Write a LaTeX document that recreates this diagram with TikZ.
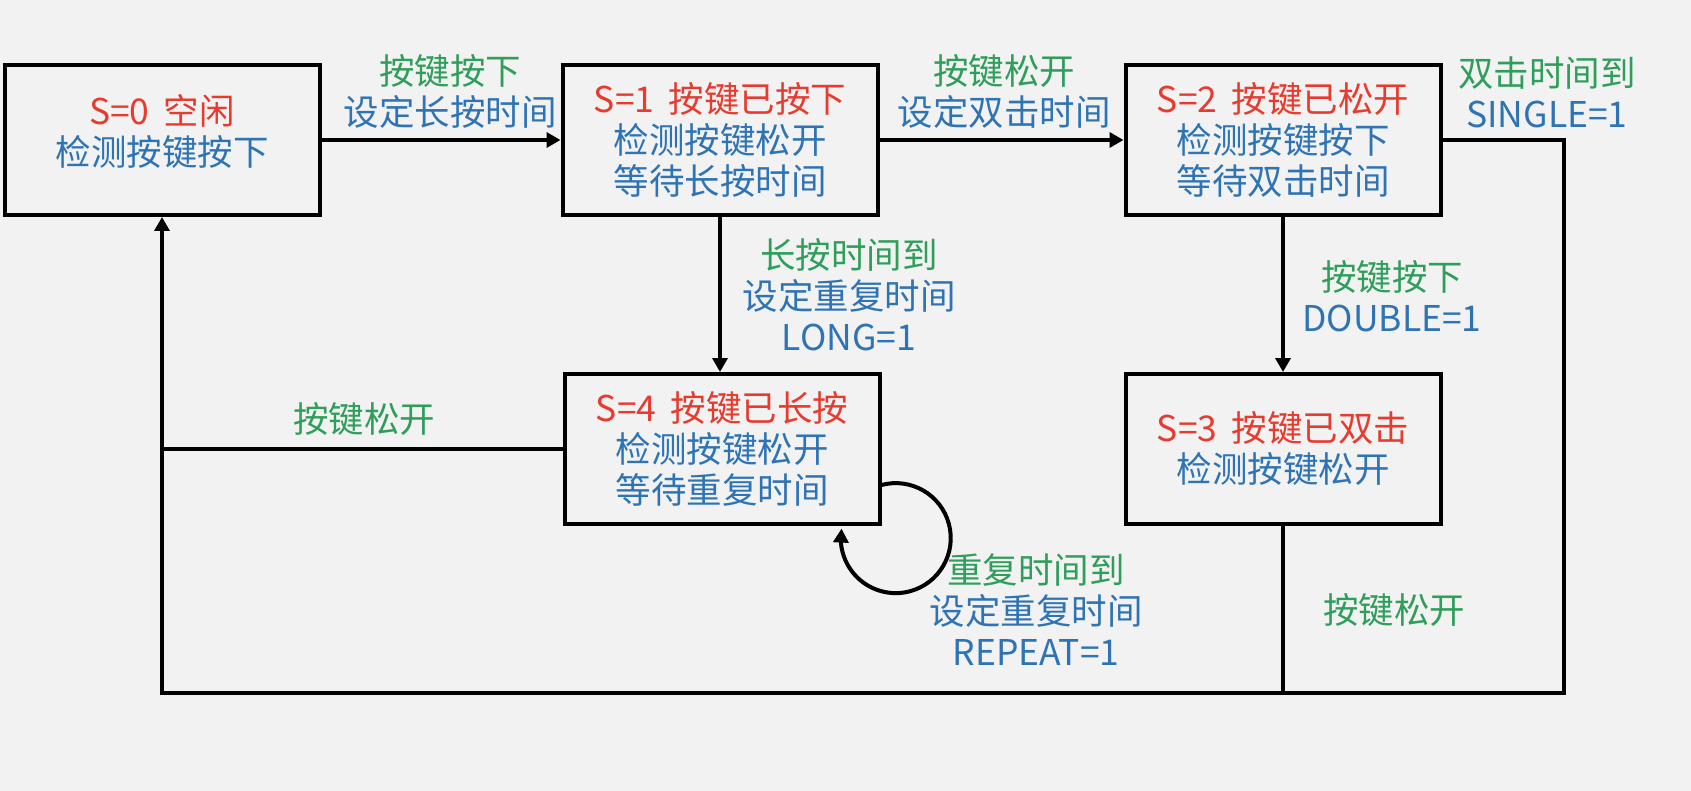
\documentclass[tikz,border=0pt]{standalone}
\usepackage{fontspec}
\setmainfont{Noto Sans CJK SC}
\usetikzlibrary{arrows.meta,calc,bending}
\definecolor{bg}{HTML}{F2F2F2}
\definecolor{sred}{HTML}{E63B2E}
\definecolor{sblue}{HTML}{2E74B5}
\definecolor{sgreen}{HTML}{2F9E5B}
\begin{document}
\begin{tikzpicture}[x=1pt,y=-1pt,
  box/.style={draw=black, line width=4pt, minimum width=315pt, minimum height=150pt,
    align=center, font=\fontsize{35.5}{41}\selectfont, inner sep=0pt},
  lab/.style={align=center, font=\fontsize{35.5}{41}\selectfont, inner sep=0pt},
  conn/.style={draw=black, line width=4pt},
  arr/.style={conn, -{Triangle[length=14pt,width=15pt,flex]}}]
\fill[bg] (0,0) rectangle (1691,791);
\useasboundingbox (0,0) rectangle (1691,791);

\node[box] (s0) at (162,140) {};
\node[lab] (s0t) at ($(s0)+(0,-9)$) {\textcolor{sred}{S=0\hspace{0.4em}空闲}\\\textcolor{sblue}{检测按键按下}};
\node[box] (s1) at (720,140) {\textcolor{sred}{S=1\hspace{0.4em}按键已按下}\\\textcolor{sblue}{检测按键松开}\\\textcolor{sblue}{等待长按时间}};
\node[box] (s2) at (1283,140) {\textcolor{sred}{S=2\hspace{0.4em}按键已松开}\\\textcolor{sblue}{检测按键按下}\\\textcolor{sblue}{等待双击时间}};
\node[box] (s4) at (722,449) {\textcolor{sred}{S=4\hspace{0.4em}按键已长按}\\\textcolor{sblue}{检测按键松开}\\\textcolor{sblue}{等待重复时间}};
\node[box] (s3) at (1283,449) {\textcolor{sred}{S=3\hspace{0.4em}按键已双击}\\\textcolor{sblue}{检测按键松开}};

\coordinate (rb) at (1564,693);
\coordinate (lb) at (162,693);
\coordinate (ls) at ($(s4.east)+(0,36)$);

\draw[arr] (s0.east) -- (s1.west);
\draw[arr] (s1.east) -- (s2.west);
\draw[arr] (s1.south) -- (s1.south |- s4.north);
\draw[arr] (s2.south) -- (s3.north);
\draw[arr] (s2.east) -| (rb) -- (lb) -- (s0.south);
\draw[conn] (s4.west) -- (lb |- s4.west);
\draw[conn] (s3.south) -- (s3.south |- lb);
\draw[arr] (ls) arc[start angle=255, end angle=550, radius=55];

\node[lab] (l01) at (450,91) {\textcolor{sgreen}{按键按下}\\\textcolor{sblue}{设定长按时间}};
\node[lab] (l12) at (1004,91) {\textcolor{sgreen}{按键松开}\\\textcolor{sblue}{设定双击时间}};
\node[lab] (l2r) at (1547,92) {\textcolor{sgreen}{双击时间到}\\\textcolor{sblue}{SINGLE=1}};
\node[lab] (l14) at (849,295) {\textcolor{sgreen}{长按时间到}\\\textcolor{sblue}{设定重复时间}\\\textcolor{sblue}{LONG=1}};
\node[lab] (l23) at (1392,296) {\textcolor{sgreen}{按键按下}\\\textcolor{sblue}{DOUBLE=1}};
\node[lab] (l40) at (364,419) {\textcolor{sgreen}{按键松开}};
\node[lab] (l44) at (1036,610) {\textcolor{sgreen}{重复时间到}\\\textcolor{sblue}{设定重复时间}\\\textcolor{sblue}{REPEAT=1}};
\node[lab] (l30) at (1394,610) {\textcolor{sgreen}{按键松开}};
\end{tikzpicture}
\end{document}
